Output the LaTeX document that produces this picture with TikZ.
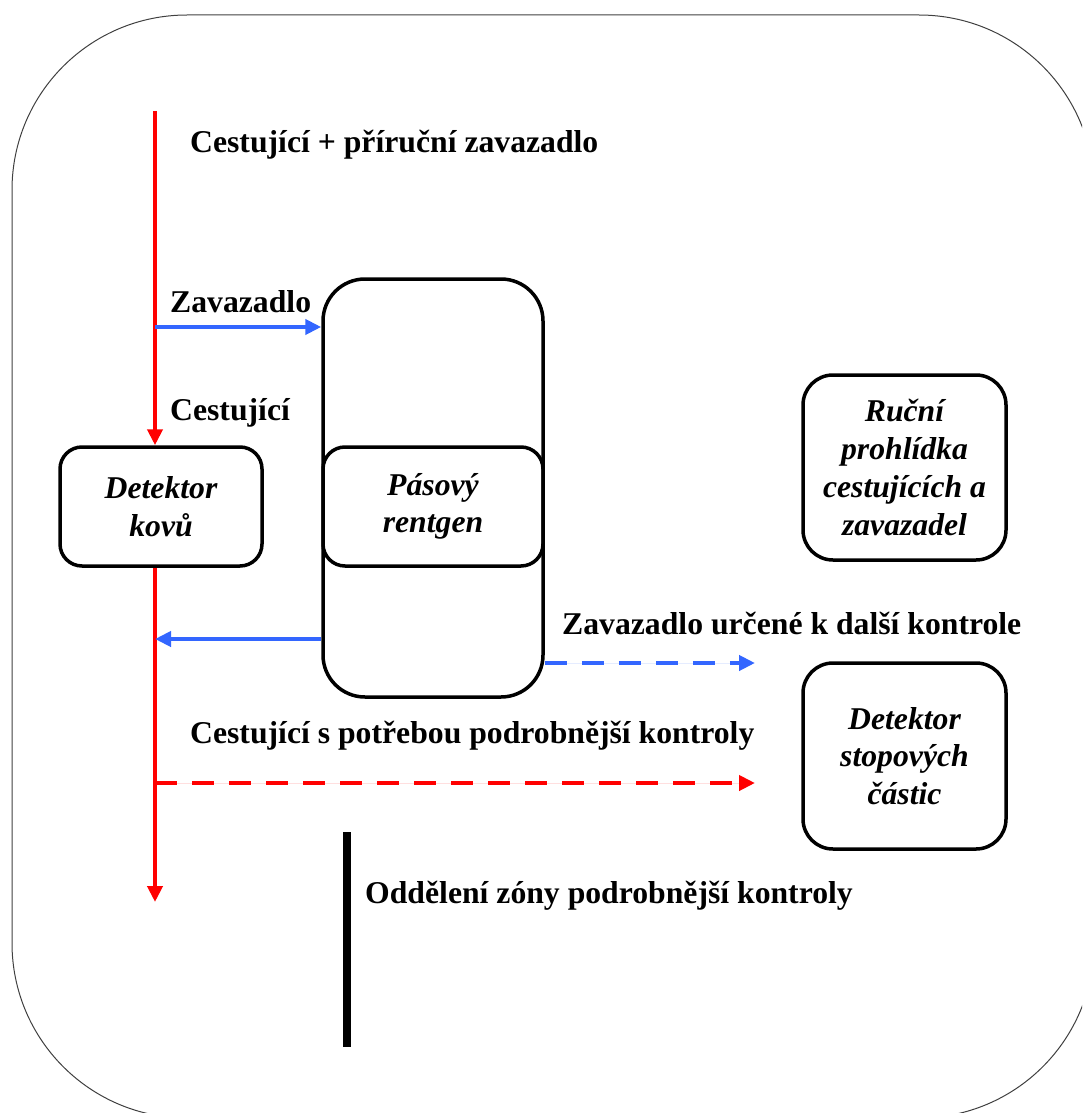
\documentclass[tikz,border=0pt]{standalone}
\usepackage{fontspec}
\setmainfont{Liberation Serif}
\usetikzlibrary{arrows.meta}
\definecolor{flowred}{RGB}{255,0,0}
\definecolor{flowblue}{RGB}{51,102,255}
\begin{document}
\begin{tikzpicture}[x=1pt,y=-1pt,
  lbl/.style={font=\fontsize{31.7}{37.7}\selectfont\bfseries, anchor=base west, inner sep=0pt},
  box/.style={draw, line width=3.5pt, rounded corners=22pt,
    font=\fontsize{31.7}{37.7}\selectfont\bfseries\itshape, align=center, inner sep=0pt},
  flow/.style={line width=4pt, -{Triangle[length=16pt,width=15pt]}},
  redflow/.style={flow, draw=flowred, fill=flowred},
  blueflow/.style={flow, draw=flowblue, fill=flowblue},
  dashpat/.style={dash pattern=on 22pt off 15pt}]
  \useasboundingbox (0,0) rectangle (1082,1113);
  \clip (0,0) rectangle (1082,1113);

  % outer frame
  \draw[line width=1pt, black!75, rounded corners=175pt] (12,15) rectangle (1094,1118);

  % stations
  \node[box, minimum width=220pt, minimum height=418pt, rounded corners=42pt] (belt) at (433,488) {};
  \node[box, minimum width=220pt, minimum height=119pt] (xray) at (433,506.5) {Pásový\\rentgen};
  \node[box, minimum width=202pt, minimum height=119pt] (metal) at (161,506.5) {Detektor\\kovů};
  \node[box, minimum width=203pt, minimum height=185pt, rounded corners=30pt] (manual) at (904.5,467.5) {Ruční\\prohlídka\\cestujících a\\zavazadel};
  \node[box, minimum width=203pt, minimum height=186pt, rounded corners=30pt] (trace) at (904.5,756) {Detektor\\stopových\\částic};

  % free ends
  \coordinate (start) at (155,111);
  \coordinate (exit) at (155,902);
  \coordinate (bagin) at (155,327);
  \coordinate (bagback) at (155,639);
  \coordinate (bagout) at (755,663);
  \coordinate (paxout) at (755,783);
  \coordinate (wallT) at (347,832);
  \coordinate (wallB) at (347,1047);

  % passenger flow
  \draw[redflow] (start) -- (start |- metal.north);
  \draw[redflow] (start |- metal.south) -- (exit);
  \draw[redflow, dashpat] (start |- paxout) -- (paxout);

  % baggage flow
  \draw[blueflow] (bagin) -- (belt.west |- bagin);
  \draw[blueflow] (belt.west |- bagback) -- (bagback);
  \draw[blueflow, dashpat] (belt.east |- bagout) -- (bagout);

  % separation wall
  \draw[line width=8pt] (wallT) -- (wallB);

  % labels
  \node[lbl] (l1) at (190,152) {Cestující + příruční zavazadlo};
  \node[lbl] (l2) at (170,312) {Zavazadlo};
  \node[lbl] (l3) at (170,420) {Cestující};
  \node[lbl] (l4) at (562,634) {Zavazadlo určené k další kontrole};
  \node[lbl] (l5) at (190,743) {Cestující s potřebou podrobnější kontroly};
  \node[lbl] (l6) at (365,903) {Oddělení zóny podrobnější kontroly};
\end{tikzpicture}
\end{document}
